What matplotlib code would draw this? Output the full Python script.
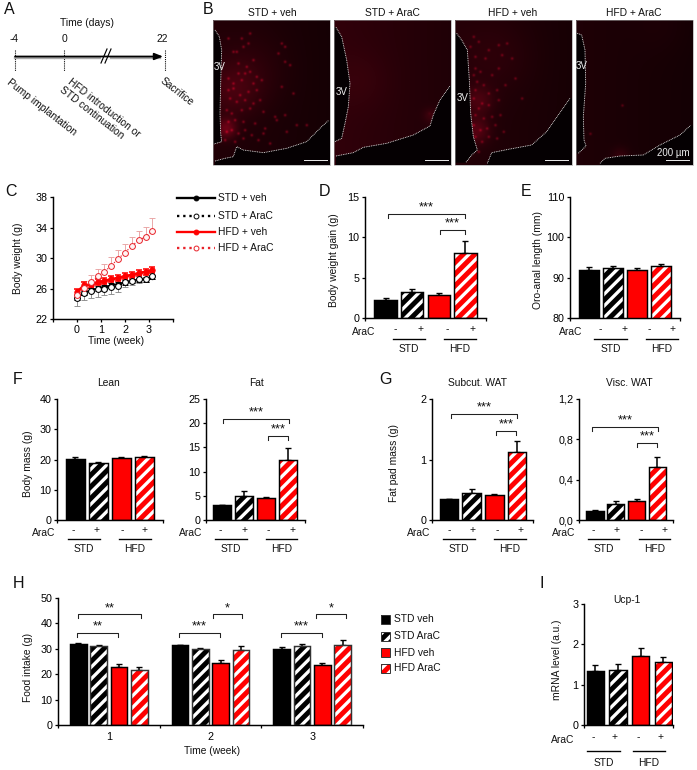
import numpy as np
import matplotlib
matplotlib.use('Agg')
import matplotlib.pyplot as plt
from matplotlib.patches import Rectangle

plt.rcParams['font.family'] = ['Liberation Sans', 'DejaVu Sans']
plt.rcParams['hatch.linewidth'] = 3.4
plt.rcParams['axes.linewidth'] = 1.5

# ── Data ──────────────────────────────────────────────────────────────────────
groups = ['STD', 'HFD']
bar_series = ['STD veh', 'STD AraC', 'HFD veh', 'HFD AraC']
bar_colors = ['black', 'black', '#ff0000', '#ff0000']
bar_hatched = [False, True, False, True]

gain_mean = [2.2, 3.2, 2.9, 8.1]
gain_err = [0.3, 0.4, 0.2, 1.5]
length_mean = [92.0, 92.3, 92.0, 92.8]
length_err = [0.7, 0.6, 0.5, 0.7]
lean_mean = [20.2, 18.9, 20.4, 20.9]
lean_err = [0.5, 0.4, 0.3, 0.4]
fat_mean = [3.0, 5.0, 4.6, 12.3]
fat_err = [0.1, 0.9, 0.2, 2.5]
subcut_mean = [0.34, 0.45, 0.41, 1.13]
subcut_err = [0.01, 0.07, 0.02, 0.17]
visc_mean = [0.09, 0.155, 0.185, 0.53]
visc_err = [0.005, 0.03, 0.02, 0.09]
ucp_mean = [1.35, 1.37, 1.72, 1.56]
ucp_err = [0.13, 0.15, 0.19, 0.12]

weeks = ['1', '2', '3']
food_mean = [[31.8, 31.1, 23.0, 21.7],
             [31.3, 29.9, 24.6, 29.5],
             [30.1, 31.0, 23.6, 31.3]]
food_err = [[0.3, 0.4, 1.1, 1.0],
            [0.3, 0.6, 0.9, 1.5],
            [0.5, 0.9, 0.7, 2.0]]

bw_week = [0, 0.286, 0.571, 0.857, 1.143, 1.429, 1.714, 2.0, 2.286, 2.571, 2.857, 3.143]
bw_std_veh = [24.8, 25.4, 25.8, 26.0, 26.2, 26.4, 26.6, 26.8, 27.0, 27.1, 27.2, 27.5]
bw_std_veh_err = [0.3, 0.3, 0.3, 0.3, 0.3, 0.3, 0.3, 0.3, 0.3, 0.3, 0.3, 0.3]
bw_std_arac = [24.7, 25.4, 25.7, 25.9, 26.0, 26.2, 26.3, 26.8, 27.0, 27.2, 27.3, 27.6]
bw_std_arac_err = [1.0, 0.9, 0.9, 1.0, 0.9, 0.9, 0.8, 0.6, 0.6, 0.5, 0.4, 0.3]
bw_hfd_veh = [25.5, 26.4, 26.5, 26.8, 27.0, 27.2, 27.4, 27.6, 27.8, 28.0, 28.2, 28.4]
bw_hfd_veh_err = [0.4, 0.4, 0.4, 0.4, 0.4, 0.4, 0.4, 0.4, 0.4, 0.4, 0.4, 0.4]
bw_hfd_arac = [25.1, 26.1, 26.8, 27.6, 28.2, 29.0, 29.9, 30.7, 31.6, 32.3, 32.8, 33.6]
bw_hfd_arac_err = [0.8, 0.9, 1.0, 1.0, 1.0, 1.1, 1.1, 1.1, 1.2, 1.2, 1.3, 1.6]

# micrograph spots (px inside each panel crop x 3)
spots_std_veh = [(60, 100), (70, 100), (75, 135), (90, 85), (110, 45), (105, 75), (85, 60), (45, 60),
                 (120, 125), (100, 145), (75, 165), (95, 165), (110, 160), (130, 175), (45, 180),
                 (60, 195), (85, 185), (120, 195), (145, 185), (205, 75), (215, 85), (195, 105),
                 (215, 130), (205, 205), (240, 225), (230, 140), (60, 210), (45, 215), (80, 230),
                 (105, 220), (130, 215), (50, 240), (70, 250), (95, 245), (120, 255), (140, 245),
                 (40, 275), (55, 285), (85, 275), (110, 270), (150, 280), (185, 295), (215, 290),
                 (45, 310), (65, 305), (90, 310), (125, 315), (155, 330), (190, 305), (40, 340),
                 (55, 335), (75, 345), (95, 335), (115, 350), (35, 365), (65, 370), (90, 360),
                 (135, 365), (150, 345), (170, 375), (220, 340), (250, 320), (280, 320)]
spots_hfd_veh = [(55, 55), (70, 70), (45, 85), (100, 95), (130, 80), (155, 75), (60, 115), (90, 120),
                 (140, 110), (170, 120), (60, 150), (55, 170), (75, 160), (110, 170), (130, 150),
                 (65, 190), (85, 200), (60, 215), (100, 225), (125, 215), (150, 200), (55, 240),
                 (80, 255), (70, 270), (100, 260), (130, 245), (60, 290), (85, 300), (110, 295),
                 (135, 290), (55, 320), (75, 335), (95, 330), (120, 320), (145, 340), (60, 355),
                 (80, 370), (100, 355), (125, 360), (70, 400), (55, 380), (180, 180), (200, 240)]
spots_hfd_arac = [(198, 411), (138, 255), (42, 340), (414, 195)]
spots_std_arac = [(285, 285)]

W, H = 697, 770
DPI = 70
FS = 10.5
TICK_FS = 11
fig = plt.figure(figsize=(W / DPI, H / DPI), dpi=DPI, facecolor='white')

# overlay in picture pixels, used for the annotations
ov = fig.add_axes([0, 0, 1, 1], zorder=10)
ov.set_xlim(0, W)
ov.set_ylim(H, 0)
ov.axis('off')
ov.patch.set_alpha(0)


def panel_ax(l, t, r, b):
    ax = fig.add_axes([l / W, 1 - b / H, (r - l) / W, (b - t) / H])
    ax.spines['top'].set_visible(False)
    ax.spines['right'].set_visible(False)
    ax.tick_params(labelsize=TICK_FS, length=3.5, width=1.3, pad=2.5)
    ax.patch.set_alpha(0)
    return ax


def txt(x, y, s, size=FS, **kw):
    kw.setdefault('ha', 'center')
    kw.setdefault('va', 'center')
    kw.setdefault('color', '#111111')
    ov.text(x, y, s, fontsize=size, **kw)


def ylab(ax, s, xpx, ypx):
    bb = ax.get_position()
    ax.set_ylabel(s, fontsize=FS, color='#111111')
    ax.yaxis.set_label_coords(((xpx + 6) / W - bb.x0) / bb.width, ((1 - ypx / H) - bb.y0) / bb.height)


def bars(ax, xs, means, errs, width, edge='black'):
    for x, m, e, c, h in zip(xs, means, errs, bar_colors, bar_hatched):
        ax.errorbar(x, m, yerr=[[0], [e]], color='black', lw=1.6, capsize=3.5, capthick=1.4, zorder=1)
        if h:
            ax.bar(x, m, width, color=c, edgecolor='white', hatch='//', lw=0, zorder=2)
            ax.bar(x, m, width, fill=False, edgecolor=edge, lw=1.5, zorder=3)
        else:
            ax.bar(x, m, width, color=c, edgecolor='black', lw=1.5, zorder=2)


def bar_panel(box, margin, ylim, yticks, yticklabels, means, errs, width=0.82):
    ax = panel_ax(*box)
    bars(ax, range(4), means, errs, width)
    ax.set_xlim(-margin[0], 3 + margin[1])
    ax.set_ylim(*ylim)
    ax.set_yticks(yticks, yticklabels)
    ax.set_xticks([-margin[0], 3 + margin[1]], ['', ''])
    return ax


def arac_row(signs, lines, arac_x, sign_y, arac_y, line_y, label_dy=10):
    for x, s in zip(signs, ['-', '+', '-', '+']):
        txt(x, sign_y, s)
    txt(arac_x, arac_y, 'AraC', ha='right')
    for (x0, x1), g in zip(lines, groups):
        ov.plot([x0, x1], [line_y, line_y], color='black', lw=1.4)
        txt((x0 + x1) / 2, line_y + label_dy, g)


def bracket(x0, x1, y, stars, sx=None, drop=4, sy=7):
    ov.plot([x0, x0, x1, x1], [y + drop, y, y, y + drop], color='#222222', lw=1.1)
    txt((x0 + x1) / 2 if sx is None else sx, y - sy, stars, size=13.5)


# ── A: timeline ───────────────────────────────────────────────────────────────
txt(9, 10, 'A', size=16.5)
txt(87, 23, 'Time (days)')
for x, s in zip([14, 64, 162], ['-4', '0', '22']):
    txt(x, 39, s)
for x in [15, 64, 165]:
    ov.plot([x, x], [50, 71], color='black', lw=1.1, ls=(0, (1, 1)))
ov.plot([15, 160], [58, 58], color='#aaaaaa', lw=2.4)
ov.annotate('', xy=(163, 56.5), xytext=(15, 56.5),
            arrowprops=dict(arrowstyle='-|>,head_length=0.8,head_width=0.32', color='black', lw=1.8,
                            shrinkA=0, shrinkB=0, mutation_scale=9))
ov.plot([103, 108], [57, 57], color='white', lw=4)
ov.plot([101, 107], [63, 49], color='black', lw=1.2)
ov.plot([105, 111], [63, 49], color='black', lw=1.2)
txt(8, 81, 'Pump implantation', rotation=-38, rotation_mode='anchor', ha='left')
txt(69, 81, 'HFD introduction or', rotation=-38, rotation_mode='anchor', ha='left')
txt(61, 89, 'STD continuation', rotation=-38, rotation_mode='anchor', ha='left')
txt(161, 80, 'Sacrifice', rotation=-38, rotation_mode='anchor', ha='left')

# ── B: micrographs ────────────────────────────────────────────────────────────
txt(208, 10, 'B', size=16.5)


def micrograph(x0, base, glows, spots, origin, amp, outline, lower, scale_x, title, tx, v3):
    x1 = x0 + 117
    yy, xx = np.mgrid[20:165, x0:x1]
    img = np.full(xx.shape, base, dtype=float)
    img *= 1 - 0.35 * (xx - x0) / 117
    for gx, gy, gs, ga in glows:
        img += ga * np.exp(-((xx - gx) ** 2 + (yy - gy) ** 2) / (2 * gs ** 2))
    for sx, sy in spots:
        px, py = origin[0] + sx / 3, origin[1] + sy / 3
        img += amp * np.exp(-((xx - px) ** 2 + (yy - py) ** 2) / (2 * 1.0 ** 2))
    img = np.clip(img, 0, 1)
    rgb = np.dstack([img, img * 0.02, img * 0.2])
    ov.imshow(rgb, extent=(x0, x1, 165, 20), aspect='auto', interpolation='bilinear', zorder=1)
    ox = [200 + p[0] / 3 for p in outline]
    oy = [p[1] / 3 for p in outline]
    lx = [200 + p[0] / 3 for p in lower]
    ly = [p[1] / 3 for p in lower]
    ov.fill(ox + [x0, x0], oy + [oy[-1], oy[0]], color='#050002', lw=0, zorder=2)
    ov.fill(lx + [x1, x1, lx[0]], ly + [ly[-1], 165, 165], color='#050002', lw=0, zorder=2)
    for a, b in [(ox, oy), (lx, ly)]:
        ov.plot(a, b, color='#eeeeee', lw=0.9, ls=(0, (1, 1)), zorder=3)
    ov.add_patch(Rectangle((x0, 20), 117, 145, fill=False, ec='#999999', lw=0.6, zorder=4))
    ov.plot([scale_x, scale_x + 22.5], [160, 160], color='#eeeeee', lw=1.0, zorder=4)
    txt(tx, 13, title)
    txt(v3[0], v3[1], '3V', color='#eeeeee', zorder=5, size=10)


micrograph(213, 0.13, [(226, 128, 7, 0.28), (232, 90, 18, 0.13), (250, 70, 25, 0.06)],
           spots_std_veh, (213, 18), 0.30,
           [(45, 90), (58, 110), (65, 150), (62, 250), (60, 340), (62, 400), (65, 425), (42, 432)],
           [(45, 483), (75, 475), (100, 470), (110, 440), (130, 450), (190, 458), (260, 445),
            (320, 425), (345, 400), (365, 380), (385, 362)],
           304, 'STD + veh', 272, (220, 67))
micrograph(334, 0.19, [(430, 115, 5, 0.10), (360, 80, 20, 0.04)], spots_std_arac, (334, 18), 0.05,
           [(408, 82), (425, 110), (440, 180), (450, 250), (445, 320), (435, 370), (425, 415), (405, 425)],
           [(408, 468), (460, 458), (490, 442), (560, 430), (640, 405), (690, 378), (700, 345),
            (720, 300), (750, 258)],
           425, 'STD + AraC', 392, (342, 92))
micrograph(455, 0.14, [(478, 100, 10, 0.16), (476, 130, 9, 0.20), (495, 55, 25, 0.05)],
           spots_hfd_veh, (455, 18), 0.26,
           [(770, 100), (785, 120), (802, 150), (808, 240), (812, 340), (820, 410), (832, 450),
            (815, 465), (797, 488)],
           [(862, 490), (875, 458), (930, 447), (995, 435), (1040, 395), (1075, 345), (1110, 295)],
           545, 'HFD + veh', 513, (463, 98))
micrograph(576, 0.12, [(620, 156, 6, 0.10), (660, 25, 20, 0.02)], spots_hfd_arac, (576, 20), 0.22,
           [(1132, 100), (1145, 105), (1155, 150), (1157, 250), (1150, 350), (1152, 420),
            (1158, 438), (1135, 460)],
           [(1200, 490), (1215, 475), (1260, 468), (1330, 465), (1380, 435), (1440, 405), (1472, 376)],
           666, 'HFD + AraC', 634, (582, 66))
txt(673, 153, '200 µm', color='#eeeeee', zorder=5, size=10)

# ── C: body weight curves ─────────────────────────────────────────────────────
txt(10.5, 192, 'C', size=16.5)
ax = panel_ax(53, 197, 173, 319)
ax.errorbar(bw_week, bw_std_arac, yerr=[bw_std_arac_err, [0] * 12], fmt='none', ecolor='#888888',
            elinewidth=0.9, capsize=3.5, capthick=0.9, zorder=1)
ax.errorbar(bw_week, bw_hfd_arac, yerr=[[0] * 12, bw_hfd_arac_err], fmt='none', ecolor='#e8a0a0',
            elinewidth=0.9, capsize=3.5, capthick=0.9, zorder=1)
ax.errorbar(bw_week, bw_hfd_veh, yerr=bw_hfd_veh_err, color='#ff0000', lw=2.8, marker='o', ms=5.5,
            capsize=3.5, elinewidth=2.2, capthick=1.6, zorder=2)
ax.errorbar(bw_week, bw_std_veh, yerr=bw_std_veh_err, color='black', lw=2.0, marker='o', ms=4.5,
            capsize=3, elinewidth=1, capthick=1, zorder=3)
ax.plot(bw_week, bw_std_arac, color='black', lw=1.4, ls=':', marker='o', ms=6, mfc='white',
        mew=1.1, zorder=4)
ax.plot(bw_week, bw_hfd_arac, color='#e8222a', lw=1.2, ls=':', marker='o', ms=6, mfc='#fff4f4',
        mew=1.0, zorder=4)
ax.set_xlim(-1, 4)
ax.set_ylim(22, 38)
ax.set_yticks([22, 26, 30, 34, 38])
ax.set_xticks([-1, 0, 1, 2, 3, 4], ['', '0', '1', '2', '3', ''])
ylab(ax, 'Body weight (g)', 17, 258)
txt(116, 341, 'Time (week)')
leg_styles = [('black', '-', 'black', 'STD + veh'), ('black', ':', 'white', 'STD + AraC'),
              ('#ff0000', '-', '#ff0000', 'HFD + veh'), ('#e8222a', ':', 'white', 'HFD + AraC')]
for y, (c, ls, mfc, lab) in zip([198, 216, 232, 248], leg_styles):
    ov.plot([177, 215], [y, y], color=c, lw=2.4, ls=ls)
    ov.plot([196], [y], color=c, marker='o', ms=5, mfc=mfc, mew=1.0)
    txt(218, y, lab, ha='left')

# ── D, E ──────────────────────────────────────────────────────────────────────
txt(324, 192, 'D', size=16.5)
ax = bar_panel((365, 197, 486, 318), (0.77, 0.77), (0, 15), [0, 5, 10, 15], ['0', '5', '10', '15'],
               gain_mean, gain_err, 0.83)
ylab(ax, 'Body weight gain (g)', 333, 260)
arac_row([395, 421, 447, 473], [(393, 425), (444, 476)], 375, 329, 332, 339)
bracket(387.7, 465, 214, '***')
bracket(440, 465, 230, '***')

txt(526, 191, 'E', size=16.5)
ax = bar_panel((570, 197, 680, 318), (0.79, 0.79), (80, 110), [80, 90, 100, 110], ['80', '90', '100', '110'],
               length_mean, length_err, 0.83)
ylab(ax, 'Oro-anal length (mm)', 537, 260)
arac_row([600, 624, 649, 672], [(594, 627), (646, 678)], 582, 329, 332, 339)

# ── F ─────────────────────────────────────────────────────────────────────────
txt(18, 379, 'F', size=16.5)
txt(109, 383, 'Lean')
ax = bar_panel((57, 399, 163, 520), (0.78, 0.8), (0, 40), [0, 10, 20, 30, 40], ['0', '10', '20', '30', '40'],
               lean_mean, lean_err)
ylab(ax, 'Body mass (g)', 27, 464)
arac_row([73, 97, 122, 145], [(68, 100), (119, 151)], 55, 530, 533, 539)

txt(257, 383, 'Fat')
ax = bar_panel((206, 399, 305, 520), (0.73, 0.77), (0, 25), [0, 5, 10, 15, 20, 25],
               ['0', '5', '10', '15', '20', '25'], fat_mean, fat_err)
arac_row([220, 244, 268, 292], [(215, 247), (266, 297)], 202, 530, 533, 539)
bracket(223, 289, 419, '***')
bracket(268, 288, 436, '***')

# ── G ─────────────────────────────────────────────────────────────────────────
txt(385, 379, 'G', size=16.5)
txt(478, 383, 'Subcut. WAT')
ax = bar_panel((432, 399, 533, 520), (0.75, 0.7), (0, 2), [0, 1, 2], ['0', '1', '2'], subcut_mean, subcut_err)
ylab(ax, 'Fat pad mass (g)', 393, 463)
arac_row([449, 472, 497, 521], [(443, 475), (494, 526)], 430, 530, 533, 539)
bracket(451, 517, 414, '***')
bracket(496, 516, 431, '***')

txt(629, 383, 'Visc. WAT')
ax = bar_panel((579, 399, 673, 520), (0.77, 0.75), (0, 1.2), [0, 0.4, 0.8, 1.2],
               ['0,0', '0,4', '0,8', '1,2'], visc_mean, visc_err)
arac_row([593, 617, 641, 665], [(588, 619), (639, 670)], 575, 530, 533, 539)
bracket(592, 658, 427, '***')
bracket(637, 657, 443, '***')

# ── H ─────────────────────────────────────────────────────────────────────────
txt(18, 584, 'H', size=16.5)
ax = panel_ax(58, 598, 363, 725)
for i, (m, e) in enumerate(zip(food_mean, food_err)):
    xs = [i + 0.5 + off for off in (-0.3, -0.1, 0.1, 0.3)]
    bars(ax, xs, m, e, 0.162, edge='#333333')
ax.set_xlim(0, 3)
ax.set_ylim(0, 50)
ax.set_yticks([0, 10, 20, 30, 40, 50])
ax.set_xticks([0, 1, 2, 3], ['', '', '', ''])
ax.set_xticks([0.5, 1.5, 2.5], weeks, minor=True)
ax.tick_params(axis='x', which='minor', length=0, labelsize=TICK_FS, pad=7)
ylab(ax, 'Food intake (g)', 27, 667)
txt(212, 751, 'Time (week)')
bracket(78.3, 140.7, 614, '**', sy=6)
bracket(77, 118, 633, '**', sy=6.5)
bracket(212.7, 242.3, 614, '*', sy=6)
bracket(178.7, 219.7, 633, '***', sy=6.5)
bracket(316, 345.7, 614, '*', sy=6)
bracket(280.7, 321.7, 633, '***', sy=6.5)
for y, lab, c, h in zip([619, 636, 652.5, 668], bar_series, bar_colors, bar_hatched):
    ov.add_patch(Rectangle((381, y - 4.5), 9, 9, fc=c, ec='white' if h else c, hatch='//' if h else None, lw=0))
    ov.add_patch(Rectangle((381, y - 4.5), 9, 9, fill=False, ec='#333333', lw=1.0))
    txt(394, y, lab, ha='left')

# ── I ─────────────────────────────────────────────────────────────────────────
txt(542, 583, 'I', size=16.5)
txt(627, 600, 'Ucp-1')
ax = bar_panel((584, 604, 673, 725), (0.51, 0.44), (0, 3), [0, 1, 2, 3], ['0', '1', '2', '3'],
               ucp_mean, ucp_err, 0.76)
ylab(ax, 'mRNA level (a.u.)', 556, 660)
arac_row([593, 615, 638, 660], [(587, 620), (633, 665)], 574, 737, 740, 751, label_dy=12)

ov.set_xlim(0, W)
ov.set_ylim(H, 0)
fig.savefig('out.png', dpi=DPI)
